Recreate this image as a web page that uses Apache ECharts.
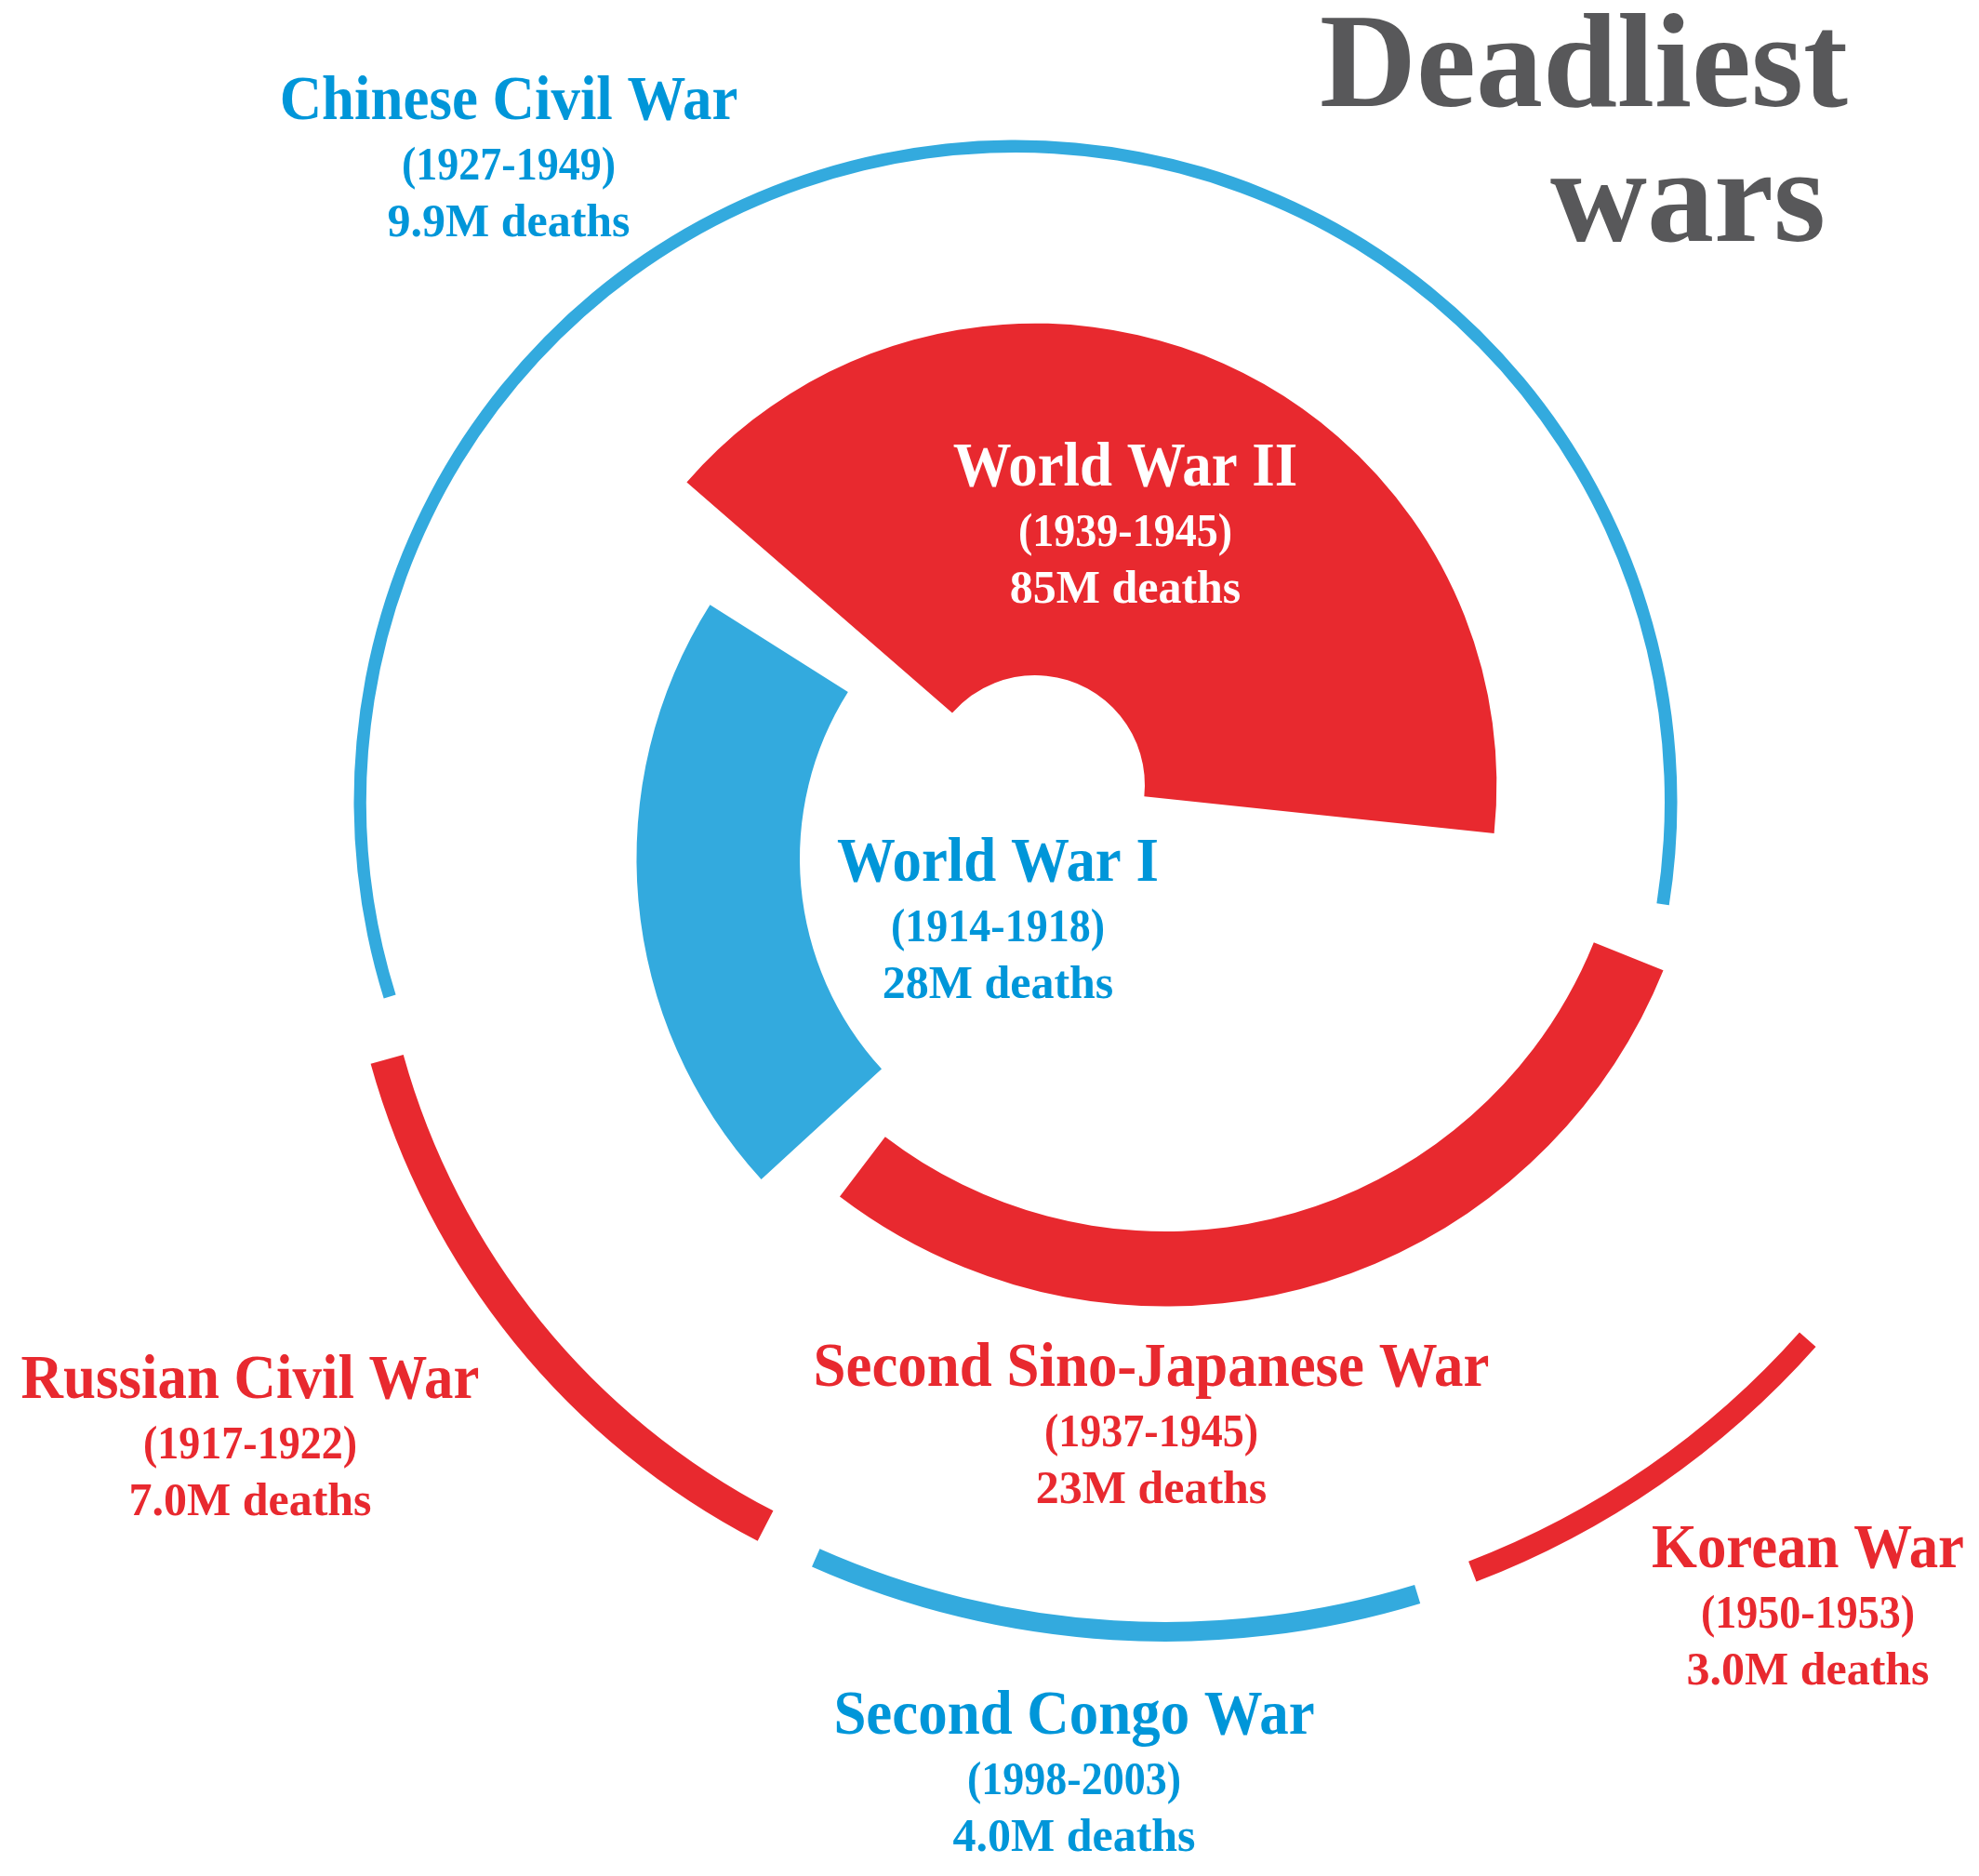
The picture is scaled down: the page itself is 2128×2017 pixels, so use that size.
<!DOCTYPE html>
<html>
<head>
<meta charset="utf-8">
<title>Deadliest wars</title>
<script src="https://cdn.jsdelivr.net/npm/echarts@6/dist/echarts.min.js"></script>
<style>
  html, body { margin: 0; padding: 0; background: #fff; }
  #main { width: 2128px; height: 2017px; }
</style>
</head>
<body>
<div id="main"></div>
<script>
// ---- data ----
const wars = ['World War II', 'World War I', 'Second Sino-Japanese War', 'Chinese Civil War',
              'Russian Civil War', 'Second Congo War', 'Korean War'];
const years = ['(1939-1945)', '(1914-1918)', '(1937-1945)', '(1927-1949)',
               '(1917-1922)', '(1998-2003)', '(1950-1953)'];
const deaths = [85, 28, 23, 9.9, 7.0, 4.0, 3.0]; // millions

// ---- layout (each arc's area is proportional to deaths) ----
const AREA_PER_M = 3460;            // px^2 per million deaths
const centers = [[1113, 844], [1195, 923], [1253, 827], [1092, 862],
                 [1195, 923], [1253, 827], [1253, 827]];
const innerR = [118, 335, 497, 698, 790, 917, 912];
const startAngle = [139, 222.5, -22, 197.3, 242.6, -73, -41.6];
const arcSpan = [145, 74.8, 105.3, 206.3, 47.1, 40.9, 27.45];
const labelPos = [[1210, 522], [1073, 947], [1238, 1490], [547, 128],
                  [269, 1503], [1155, 1864], [1944, 1685]];

const RED = '#e8292f', BLUE = '#33aade', BLUE_TXT = '#0096d9';
const arcColor = [RED, BLUE, RED, BLUE, RED, BLUE, RED];
const textColor = ['#ffffff', BLUE_TXT, RED, BLUE_TXT, RED, BLUE_TXT, RED];
const FONT = "'Liberation Serif', 'Times New Roman', serif";

const deathText = d => (d < 10 ? d.toFixed(1) : String(d)) + 'M deaths';

const series = wars.map((name, i) => {
  const span = arcSpan[i];
  const r0 = innerR[i];
  const r1 = Math.sqrt(r0 * r0 + 2 * AREA_PER_M * deaths[i] / (span * Math.PI / 180));
  return {
    type: 'pie',
    name: name,
    silent: true,
    animation: false,
    center: centers[i],
    radius: [r0, r1],
    startAngle: startAngle[i],
    clockwise: true,
    avoidLabelOverlap: false,
    label: {show: false},
    labelLine: {show: false},
    emphasis: {disabled: true},
    itemStyle: {borderWidth: 0},
    data: [
      {value: span, itemStyle: {color: arcColor[i]}},
      {value: 360 - span, itemStyle: {color: 'rgba(0,0,0,0)'}}
    ]
  };
});

// text line helper: base is the alphabetic baseline
function line(text, x, base, size, color, sx) {
  return {
    type: 'text',
    x: x,
    y: base - 0.29 * size + 2,
    scaleX: sx,
    z: 100,
    silent: true,
    style: {
      text: text,
      font: 'bold ' + size + 'px ' + FONT,
      fill: color,
      align: 'center',
      verticalAlign: 'middle'
    }
  };
}

const graphics = [];
wars.forEach((name, i) => {
  const [x, y] = labelPos[i];
  graphics.push(line(name, x, y, 68, textColor[i], 0.925));
  graphics.push(line(years[i], x, y + 65, 50, textColor[i], 0.92));
  graphics.push(line(deathText(deaths[i]), x, y + 126, 50, textColor[i], 1));
});
graphics.push(line('Deadliest', 1703, 117, 144, '#58585a', 1));
graphics.push(line('wars', 1815, 262, 144, '#58585a', 1));

const chart = echarts.init(document.getElementById('main'));
chart.setOption({
  backgroundColor: '#ffffff',
  animation: false,
  series: series,
  graphic: graphics
});
</script>
</body>
</html>
